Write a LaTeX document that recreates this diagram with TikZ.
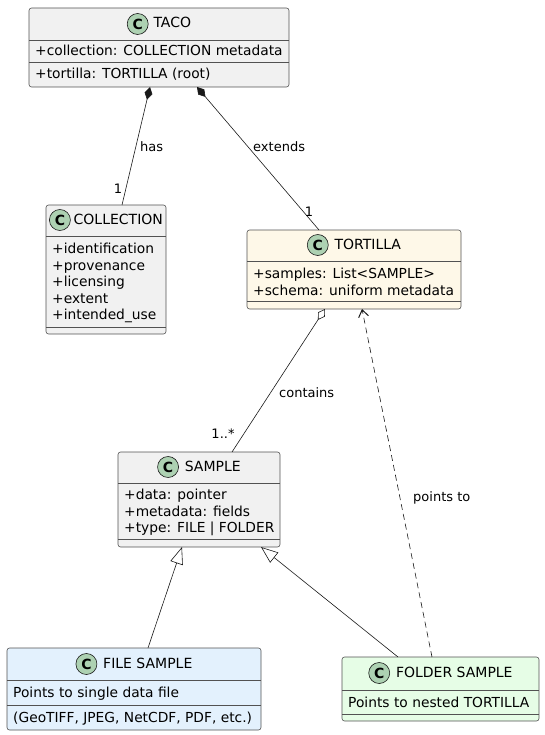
\documentclass[tikz,border=0pt]{standalone}
\usepackage{fontspec}
\setmainfont{DejaVu Sans}
\usetikzlibrary{arrows.meta,calc}
\definecolor{boxfill}{HTML}{F1F1F1}
\definecolor{boxline}{HTML}{181818}
\definecolor{iconfill}{HTML}{ADD1B2}
\definecolor{tortfill}{HTML}{FEF8E8}
\definecolor{filefill}{HTML}{E3F1FD}
\definecolor{folderfill}{HTML}{E6FDE6}
\newcommand\cicon{\tikz[baseline=-4pt]\node[circle,draw=boxline,line width=0.6pt,fill=iconfill,inner sep=0pt,minimum size=21pt,font=\fontsize{14}{14}\selectfont\bfseries]{C};}
\begin{document}
\begin{tikzpicture}[x=1pt,y=-1pt,
  umlbox/.style={draw=boxline!75,line width=0.6pt,rounded corners=2.5pt},
  sepline/.style={draw=boxline!75,line width=0.6pt},
  ttl/.style={anchor=center,inner sep=0pt,font=\fontsize{14}{14}\selectfont},
  attr/.style={anchor=base west,inner sep=0pt,font=\fontsize{13.8}{13.8}\selectfont},
  lbl/.style={inner sep=0pt,font=\fontsize{13}{13}\selectfont},
  conn/.style={draw=boxline,line width=0.6pt}]
\useasboundingbox (0,0) rectangle (544,735);

% TACO
\path[umlbox,fill=boxfill] (29,8) rectangle (289,87);
\node[inner sep=0pt,minimum width=260pt,minimum height=79pt,anchor=north west] (taco) at (29,8) {};
\draw[sepline] (29,40) -- (289,40);
\draw[sepline] (29,62) -- (289,62);
\node[ttl] (tacot) at (159,24) {\cicon\hspace{5pt}TACO};
\node[attr] (taco1) at (35,56) {+collection: COLLECTION metadata};
\node[attr] (taco2) at (35,79) {+tortilla: TORTILLA (root)};

% COLLECTION
\path[umlbox,fill=boxfill] (46,205) rectangle (166,334);
\node[inner sep=0pt,minimum width=120pt,minimum height=129pt,anchor=north west] (coll) at (46,205) {};
\draw[sepline] (46,236) -- (166,236);
\draw[sepline] (46,327) -- (166,327);
\node[ttl] (collt) at (106,220) {\cicon\hspace{3pt}COLLECTION};
\node[attr] (coll1) at (52,253.5) {+identification};
\node[attr] (coll2) at (52,270) {+provenance};
\node[attr] (coll3) at (52,286.5) {+licensing};
\node[attr] (coll4) at (52,303) {+extent};
\node[attr] (coll5) at (52,319.5) {+intended\_use};

% TORTILLA
\path[umlbox,fill=tortfill] (247,230) rectangle (461,309);
\node[inner sep=0pt,minimum width=214pt,minimum height=79pt,anchor=north west] (tort) at (247,230) {};
\draw[sepline] (247,261) -- (461,261);
\draw[sepline] (247,301) -- (461,301);
\node[ttl] (tortt) at (354,245) {\cicon\hspace{6pt}TORTILLA};
\node[attr] (tort1) at (253,278) {+samples: List<SAMPLE>};
\node[attr] (tort2) at (253,295) {+schema: uniform metadata};

% SAMPLE
\path[umlbox,fill=boxfill] (118,452) rectangle (280,547);
\node[inner sep=0pt,minimum width=162pt,minimum height=95pt,anchor=north west] (samp) at (118,452) {};
\draw[sepline] (118,483) -- (280,483);
\draw[sepline] (118,539) -- (280,539);
\node[ttl] (sampt) at (199,467) {\cicon\hspace{6pt}SAMPLE};
\node[attr] (samp1) at (124,499.5) {+data: pointer};
\node[attr] (samp2) at (124,516) {+metadata: fields};
\node[attr] (samp3) at (124,532.5) {+type: FILE | FOLDER};

% FILE SAMPLE
\path[umlbox,fill=filefill] (7,648) rectangle (261,730);
\node[inner sep=0pt,minimum width=254pt,minimum height=82pt,anchor=north west] (file) at (7,648) {};
\draw[sepline] (7,680) -- (261,680);
\draw[sepline] (7,705) -- (261,705);
\node[ttl] (filet) at (134,664) {\cicon\hspace{6pt}FILE SAMPLE};
\node[attr] (file1) at (13,697.5) {Points to single data file};
\node[attr] (file2) at (13,722.5) {(GeoTIFF, JPEG, NetCDF, PDF, etc.)};

% FOLDER SAMPLE
\path[umlbox,fill=folderfill] (342,657) rectangle (539,721);
\node[inner sep=0pt,minimum width=197pt,minimum height=64pt,anchor=north west] (fold) at (342,657) {};
\draw[sepline] (342,690) -- (539,690);
\draw[sepline] (342,714) -- (539,714);
\node[ttl] (foldt) at (440.5,673) {\cicon\hspace{6pt}FOLDER SAMPLE};
\node[attr] (fold1) at (348,707) {Points to nested TORTILLA};

% connector end points
\coordinate (tacoHas) at (150,87);
\coordinate (tacoExt) at (197,87);
\coordinate (collTop) at (122,205);
\coordinate (tortTop) at (319,230);
\coordinate (tortAgg) at (325,309);
\coordinate (tortDep) at (362,309);
\coordinate (sampTop) at (232,452);
\coordinate (sampGenA) at (182,547);
\coordinate (sampGenB) at (261,547);
\coordinate (fileTop) at (148,648);
\coordinate (foldGen) at (398,657);
\coordinate (foldDep) at (432,657);

\draw[conn,-{Diamond[length=13pt,width=8pt,fill=boxline]}] (collTop) -- (tacoHas);
\draw[conn,-{Diamond[length=13pt,width=8pt,fill=boxline]}] (tortTop) -- (tacoExt);
\draw[conn,-{Diamond[length=13pt,width=8pt,fill=white]}] (sampTop) -- (tortAgg);
\draw[conn,dashed,dash pattern=on 6pt off 4pt,-{Straight Barb[length=7pt,width=10pt,line width=1pt]}] (foldDep) -- (tortDep);
\draw[conn,-{Triangle[length=17pt,width=13pt,fill=white]}] (fileTop) -- (sampGenA);
\draw[conn,-{Triangle[length=17pt,width=13pt,fill=white]}] (foldGen) -- (sampGenB);

% labels
\node[lbl,anchor=west] (lhas) at (140,147) {has};
\node[lbl,anchor=west] (lext) at (253,147) {extends};
\node[lbl,anchor=center] (l1a) at (118,189) {1};
\node[lbl,anchor=center] (l1b) at (309,212) {1};
\node[lbl,anchor=west] (lcont) at (279,393) {contains};
\node[lbl,anchor=center] (lmany) at (223,434) {1..*};
\node[lbl,anchor=west] (lpts) at (413,498) {points to};
\end{tikzpicture}
\end{document}
